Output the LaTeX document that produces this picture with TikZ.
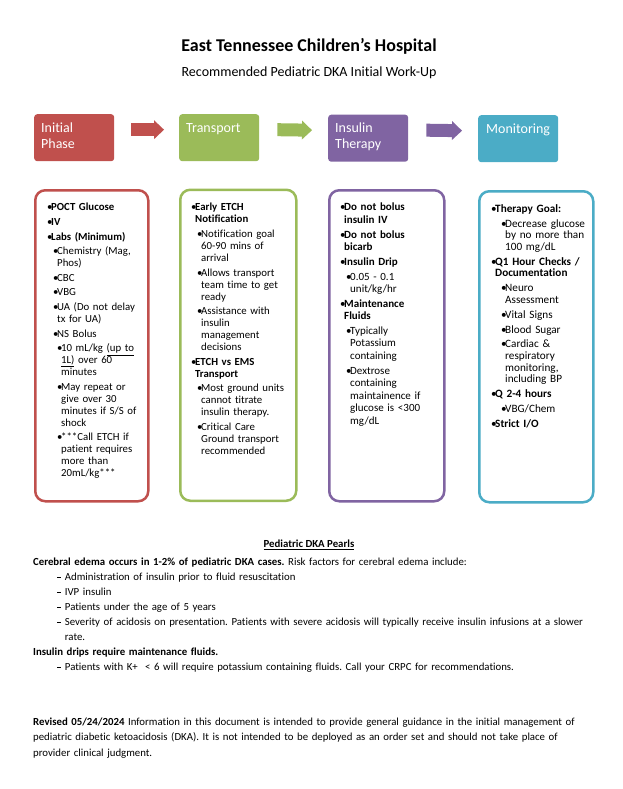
\documentclass[tikz,border=0pt]{standalone}
\usepackage{fontspec}
\setmainfont{Carlito}[Ligatures=NoCommon]
\usepackage{tikz}
\usepackage{xcolor}
\usetikzlibrary{arrows.meta}

\definecolor{phred}{HTML}{C0504D}
\definecolor{phgreen}{HTML}{9BBB59}
\definecolor{phpurple}{HTML}{8064A2}
\definecolor{phteal}{HTML}{4BACC6}

% bullet levels for the column texts
\newcommand\bulA[1]{\par\leftskip=4pt\noindent\hspace*{-4pt}\makebox[4pt][l]{\textbullet}#1}
\newcommand\bulB[1]{\par\leftskip=10pt\noindent\hspace*{-4pt}\makebox[4pt][l]{\textbullet}#1}
\newcommand\bulC[1]{\par\leftskip=14pt\noindent\hspace*{-4pt}\makebox[4pt][l]{\textbullet}#1}
% dash items for the pearls
\newcommand\dsh[1]{\par\leftskip=31.7pt\noindent\hspace*{-7.8pt}\makebox[7.8pt][l]{\rule[2.6pt]{4.2pt}{0.75pt}}#1}

\frenchspacing
\begin{document}
\begin{tikzpicture}[x=1pt,y=-1pt,
  every node/.style={inner sep=0pt},
  phase/.style={fill=#1,rounded corners=3pt,minimum width=80pt,minimum height=47pt,anchor=north west},
  phlabel/.style={text=white,font=\fontsize{14}{16.5}\selectfont,align=left,anchor=north west},
  colbox/.style={draw=#1,line width=2.5pt,fill=white,rounded corners=10pt,minimum height=311pt,anchor=north west},
  coltext/.style={text width=110pt,align=left,anchor=north west,
    font=\fontsize{10.8}{12}\selectfont\setlength{\parskip}{2.6pt}},
  blockarrow/.style={draw=#1,line width=13pt,-{Triangle[length=10pt,width=19pt,line width=0pt]}},
  prose/.style={text width=590pt,align=left,anchor=north west}]
\useasboundingbox (0,0) rectangle (623,789);

% title
\node[font=\fontsize{18}{21}\selectfont\bfseries] (title) at (309,46) {East Tennessee Children’s Hospital};
\node[font=\fontsize{14}{17}\selectfont] (subtitle) at (309,72.5) {Recommended Pediatric DKA Initial Work-Up};

% phase boxes
\node[phase=phred] (ph1) at (34,114) {};
\node[phase=phgreen] (ph2) at (179,114) {};
\node[phase=phpurple] (ph3) at (328,114.5) {};
\node[phase=phteal] (ph4) at (478,115) {};
\node[phlabel] (ph1t) at (41,122.5) {Initial\\Phase};
\node[phlabel] (ph2t) at (186,123.5) {Transport};
\node[phlabel] (ph3t) at (335,122.5) {Insulin\\Therapy};
\node[phlabel] (ph4t) at (486,123.5) {Monitoring};

% arrows between phases
\draw[blockarrow=phred] ([shift={(17,-8)}]ph1.east) -- ([shift={(-15,-8)}]ph2.west);
\draw[blockarrow=phgreen] ([shift={(18,-8)}]ph2.east) -- ([shift={(-16,-8)}]ph3.west);
\draw[blockarrow=phpurple] ([shift={(18,-8)}]ph3.east) -- ([shift={(-16,-8)}]ph4.west);

% columns
\node[colbox=phred,minimum width=113pt] (c1) at (34,189) {};
\node[colbox=phgreen,minimum width=116pt] (c2) at (179,188.5) {};
\node[colbox=phpurple,minimum width=115pt] (c3) at (328,189) {};
\node[colbox=phteal,minimum width=114pt] (c4) at (478,190) {};

\node[coltext] (c1t) at (47,196) {%
\bulA{\textbf{POCT Glucose}}
\bulA{\textbf{IV}}
\bulA{\textbf{Labs (Minimum)}}
\bulB{Chemistry (Mag,\\Phos)}
\bulB{CBC}
\bulB{VBG}
\bulB{UA (Do not delay\\tx for UA)}
\bulB{NS Bolus}
\bulC{10 mL/kg \underline{(up to}\\\underline{1L)} over 60\\minutes}
\bulC{May repeat or\\give over 30\\minutes if S/S of\\shock}
\bulC{***Call ETCH if\\patient requires\\more than\\20mL/kg***}\par};

\node[coltext] (c2t) at (191,196) {%
\bulA{\textbf{Early ETCH\\Notification}}
\bulB{Notification goal\\60-90 mins of\\arrival}
\bulB{Allows transport\\team time to get\\ready}
\bulB{Assistance with\\insulin\\management\\decisions}
\bulA{\textbf{ETCH vs EMS\\Transport}}
\bulB{Most ground units\\cannot titrate\\insulin therapy.}
\bulB{Critical Care\\Ground transport\\recommended}\par};

\node[coltext,font=\fontsize{11}{12.5}\selectfont\setlength{\parskip}{2.2pt}] (c3t) at (340,196) {%
\bulA{\textbf{Do not bolus\\insulin IV}}
\bulA{\textbf{Do not bolus\\bicarb}}
\bulA{\textbf{Insulin Drip}}
\bulB{0.05 - 0.1\\unit/kg/hr}
\bulA{\textbf{Maintenance\\Fluids}}
\bulB{Typically\\Potassium\\containing}
\bulB{Dextrose\\containing\\maintainence if\\glucose is <300\\mg/dL}\par};

\node[coltext,font=\fontsize{11.2}{11.6}\selectfont\setlength{\parskip}{3.3pt}] (c4t) at (491,197) {%
\bulA{\textbf{Therapy Goal:}}
\bulC{Decrease glucose\\by no more than\\100 mg/dL}
\bulA{\textbf{Q1 Hour Checks /\\Documentation}}
\bulC{Neuro\\Assessment}
\bulC{Vital Signs}
\bulC{Blood Sugar}
\bulC{Cardiac \&\\respiratory\\monitoring,\\including BP}
\bulA{\textbf{Q 2-4 hours}}
\bulC{VBG/Chem}
\bulA{\textbf{Strict I/O}}\par};

% pearls
\node[font=\fontsize{10.8}{13}\selectfont\bfseries] (pearls) at (309,545) {\underline{Pediatric DKA Pearls}};
\node[prose,font=\fontsize{10.8}{15}\selectfont] (risks) at (33,557.5) {%
\textbf{Cerebral edema occurs in 1-2\% of pediatric DKA cases.} Risk factors for cerebral edema include:
\dsh{Administration of insulin prior to fluid resuscitation}
\dsh{IVP insulin}
\dsh{Patients under the age of 5 years}
\dsh{Severity of acidosis on presentation. Patients with severe acidosis will typically receive insulin infusions at a slower\\rate.}
\par\leftskip=0pt\noindent\textbf{Insulin drips require maintenance fluids.}
\dsh{Patients with K+\ \ < 6 will require potassium containing fluids. Call your CRPC for recommendations.}\par};

% footer
\node[prose,font=\fontsize{10.8}{15.5}\selectfont] (footer) at (33,717.5) {%
\textbf{Revised 05/24/2024} Information in this document is intended to provide general guidance in the initial management of\\
pediatric diabetic ketoacidosis (DKA). It is not intended to be deployed as an order set and should not take place of\\
provider clinical judgment.\par};
\end{tikzpicture}
\end{document}
